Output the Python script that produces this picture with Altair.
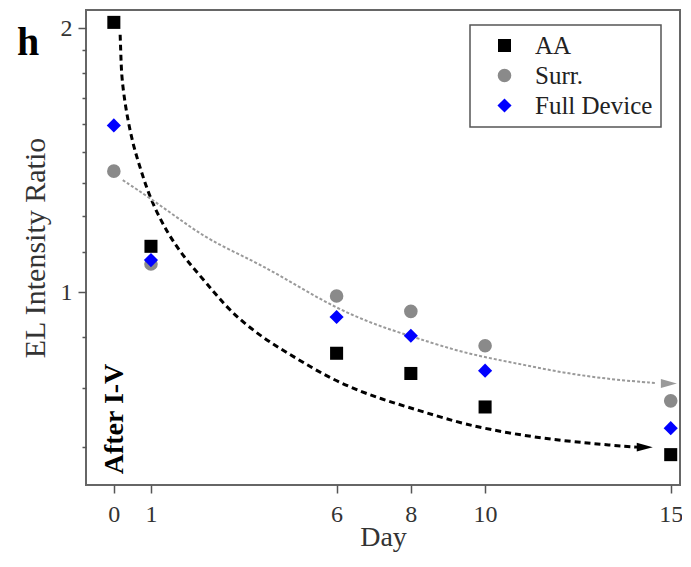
import altair as alt
import pandas as pd

# ---- data ----
days = [0, 1, 6, 8, 10, 15]
series = ["AA", "Surr.", "Full Device"]
aa_vals = [2.03, 1.128, 0.852, 0.808, 0.740, 0.653]
surr_vals = [1.374, 1.077, 0.990, 0.951, 0.869, 0.752]
full_vals = [1.549, 1.088, 0.937, 0.892, 0.814, 0.700]

# fitted guide curves
aa_fit_day = [0.17, 0.19, 0.21, 0.33, 0.51, 0.73, 0.99, 1.44, 1.93, 2.51, 3.13, 4.02,
              4.91, 5.79, 6.69, 7.49, 8.37, 9.44, 10.77, 12.11, 13.44, 14.1]
aa_fit_val = [1.965, 1.86, 1.753, 1.608, 1.475, 1.377, 1.274, 1.168, 1.090, 1.023, 0.950,
              0.886, 0.841, 0.799, 0.769, 0.749, 0.730, 0.707, 0.689, 0.677, 0.669, 0.666]
surr_fit_day = [0.24, 0.99, 1.79, 2.59, 3.75, 4.64, 5.53, 6.42, 7.31, 8.19, 9.44,
                10.77, 12.11, 13.44, 14.6]
surr_fit_val = [1.342, 1.279, 1.209, 1.145, 1.086, 1.035, 0.983, 0.941, 0.910, 0.886,
                0.852, 0.831, 0.809, 0.795, 0.788]
aa_arrow = {"day": [14.3], "ratio": [0.666]}
surr_arrow = {"day": [14.95], "ratio": [0.787]}

y_ticks = [0.6667, 0.7778, 0.8889, 1, 1.1111, 1.2222, 1.3333, 1.4444, 1.5556,
           1.6667, 1.7778, 1.8889, 2]
x_ticks = [0, 1, 6, 8, 10, 15]

FONT = "Liberation Serif"

# ---- tables ----
rows = []
for name, vals in zip(series, [aa_vals, surr_vals, full_vals]):
    for d, v in zip(days, vals):
        rows.append({"day": d, "ratio": v, "series": name})
pts = pd.DataFrame(rows)

aa_fit = pd.DataFrame({"day": aa_fit_day, "ratio": aa_fit_val})
surr_fit = pd.DataFrame({"day": surr_fit_day, "ratio": surr_fit_val})

xscale = alt.Scale(domain=[-0.75, 15.25], nice=False, zero=False)
yscale = alt.Scale(type="log", domain=[0.603, 2.097], nice=False)

xaxis = alt.Axis(values=x_ticks, title="Day", grid=False, domain=False,
                 tickSize=8, labelPadding=9, titlePadding=-3, titleFontSize=28, format="d")
yaxis = alt.Axis(values=y_ticks, title="EL Intensity Ratio", grid=False, domain=False,
                 tickSize={"condition": {"test": "datum.value == 1 || datum.value == 2", "value": 8}, "value": 4},
                 labelExpr="datum.value == 1 ? '1' : datum.value == 2 ? '2' : ''",
                 labelPadding=6, titlePadding=10, titleFontSize=30)

x = alt.X("day:Q", scale=xscale, axis=xaxis)
y = alt.Y("ratio:Q", scale=yscale, axis=yaxis)

ARROW = "M-1,-0.55L1,0L-1,0.55Z"

aa_line = alt.Chart(aa_fit).mark_line(
    color="black", strokeWidth=3, strokeDash=[6, 4], interpolate="basis"
).encode(x=x, y=y)

surr_line = alt.Chart(surr_fit).mark_line(
    color="#9a9a9a", strokeWidth=2, strokeDash=[3, 2], interpolate="basis"
).encode(x=x, y=y)

aa_head = alt.Chart(pd.DataFrame(aa_arrow)).mark_point(
    shape=ARROW, filled=True, size=256, opacity=1, strokeWidth=0, color="black"
).encode(x=x, y=y)

surr_head = alt.Chart(pd.DataFrame(surr_arrow)).mark_point(
    shape=ARROW, filled=True, size=256, opacity=1, strokeWidth=0, color="#9a9a9a"
).encode(x=x, y=y)

points = alt.Chart(pts).mark_point(filled=True, opacity=1, strokeWidth=0).encode(
    x=x, y=y,
    color=alt.Color("series:N", scale=alt.Scale(domain=series, range=["black", "#8a8a8a", "#0000ff"]),
                    legend=alt.Legend(title=None, orient="none", legendX=384, legendY=15)),
    shape=alt.Shape("series:N", scale=alt.Scale(domain=series, range=["square", "circle", "diamond"])),
    size=alt.Size("series:N", scale=alt.Scale(domain=series, range=[170, 200, 330])),
)

note = alt.Chart(pd.DataFrame({"day": [0.03], "ratio": [0.717], "t": ["After I-V"]})).mark_text(
    angle=270, align="center", baseline="middle", font=FONT, fontSize=28, fontWeight="bold", color="black"
).encode(x=x, y=y, text="t:N")

panel_label = alt.Chart(pd.DataFrame({"t": ["h"]})).mark_text(
    align="left", baseline="alphabetic", font=FONT, fontSize=40, fontWeight="bold", color="black"
).encode(x=alt.value(-69), y=alt.value(45), text="t:N")

chart = alt.layer(aa_line, surr_line, aa_head, surr_head, points, note, panel_label).properties(
    width=594, height=475,
    autosize=alt.AutoSizeParams(type="none"),
    padding={"left": 78, "top": 2, "right": 2, "bottom": 68},
).configure_view(
    stroke="#666", strokeWidth=2
).configure_axis(
    labelFont=FONT, labelFontSize=24, labelColor="#333",
    titleFont=FONT, titleFontWeight="normal", titleColor="#333",
    tickColor="#555", tickWidth=1.5,
).configure_legend(
    labelFont=FONT, labelFontSize=25, labelColor="#222",
    strokeColor="#555", fillColor="white", padding=8, rowPadding=4,
    symbolOffset=14, labelOffset=18, cornerRadius=0, strokeWidth=1.5,
)

chart.save("out.html", embed_options={"renderer": "svg", "actions": False})
